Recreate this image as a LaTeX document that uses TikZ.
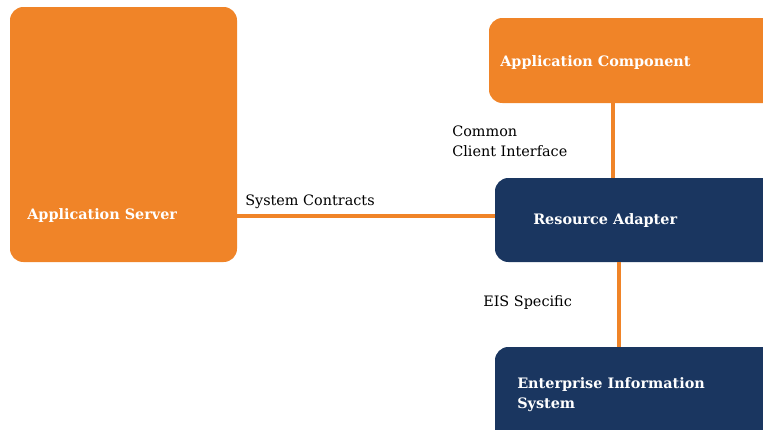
\documentclass[tikz,border=0pt]{standalone}
\usepackage{fontspec}
\setmainfont{DejaVu Serif}
\usepackage{tikz}
\usetikzlibrary{positioning, calc}

\definecolor{jcaorange}{HTML}{F08428}
\definecolor{jcanavy}{HTML}{1A3660}

\begin{document}
\begin{tikzpicture}[
    x=0.75pt, y=-0.75pt,
    box/.style={rounded corners=10pt, inner sep=0pt},
    orangebox/.style={box, fill=jcaorange},
    navybox/.style={box, fill=jcanavy},
    boxtext/.style={anchor=base west, inner sep=0pt, align=left, text=white,
        font=\fontsize{10.8}{15}\selectfont\bfseries},
    link/.style={draw=jcaorange, line width=2.4pt},
    note/.style={anchor=base west, inner sep=0pt, align=left,
        font=\fontsize{10.8}{15}\selectfont}
]
\useasboundingbox (0,0) rectangle (763,429);
\clip (0,0) rectangle (763,429);

% boxes
\node[orangebox, minimum width=170.25pt, minimum height=191.25pt] (appserver) at (123.5,134.5) {};
\node[orangebox, minimum width=225.75pt, minimum height=63.75pt] (appcomp) at (639.5,60.5) {};
\node[navybox, minimum width=225pt, minimum height=63pt] (adapter) at (645,220) {};
\node[navybox, minimum width=225pt, minimum height=84.75pt] (eis) at (645,403.5) {};

\node[boxtext] (appservertext) at (27,219) {Application Server};
\node[boxtext] (appcomptext) at (500,66) {Application Component};
\node[boxtext] (adaptertext) at (533,224) {Resource Adapter};
\node[boxtext] (eistext) at (517,408) {Enterprise Information\\System};

% connectors
\draw[link] ([yshift=3pt]adapter.west) -- ([yshift=3pt]adapter.west -| appserver.east);
\draw[link] ([xshift=-19.9pt]appcomp.south) -- ([xshift=-19.9pt]appcomp.south |- adapter.north);
\draw[link] ([xshift=-19.5pt]adapter.south) -- ([xshift=-19.5pt]adapter.south |- eis.north);

% interface labels
\node[note] (contracts) at (245,205) {System Contracts};
\node[note] (cci) at (452,156) {Common\\Client Interface};
\node[note] (eisspecific) at (483,306) {EIS Specific};
\end{tikzpicture}
\end{document}
